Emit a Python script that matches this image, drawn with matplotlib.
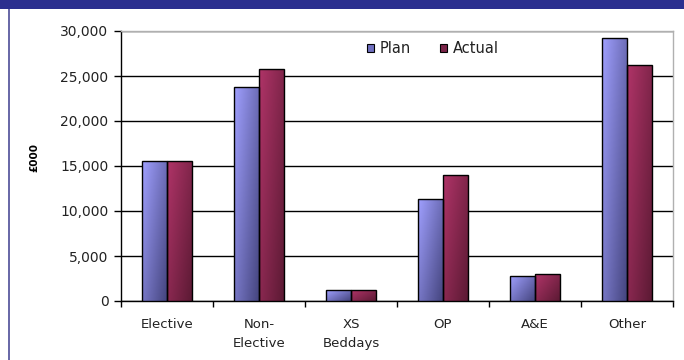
import numpy as np
import matplotlib
matplotlib.use("Agg")
import matplotlib.pyplot as plt
from matplotlib.patches import Rectangle
from matplotlib.colors import to_rgb
from matplotlib.ticker import FuncFormatter, FixedLocator

plt.rcParams['font.family'] = ['DejaVu Sans']

categories = ["Elective", "Non-\nElective", "XS\nBeddays", "OP", "A&E", "Other"]
plan = [15500, 23800, 1200, 11300, 2800, 29200]
actual = [15500, 25800, 1200, 14000, 2950, 26200]
series_names = ["Plan", "Actual"]

plan_cols = ("#a0a0ff", "#45457f")
actual_cols = ("#b03468", "#5c1a34")


def gradient_bars(ax, xs, heights, width, cols):
    light, dark = np.array(to_rgb(cols[0])), np.array(to_rgb(cols[1]))
    gx, gy = np.meshgrid(np.linspace(0, 1, 40), np.linspace(0, 1, 80))
    # gy=0 is the top row of the image
    t = 0.55 * gx + 0.45 * gy
    img = light[None, None, :] * (1 - t[..., None]) + dark[None, None, :] * t[..., None]
    bars = ax.bar(xs, heights, width, facecolor="none", edgecolor="black", lw=1.0, zorder=4)
    for b in bars:
        x0, y0 = b.get_x(), b.get_y()
        w, h = b.get_width(), b.get_height()
        im = ax.imshow(img, extent=(x0, x0 + w, y0, y0 + h), aspect="auto",
                       origin="upper", zorder=3, interpolation="bilinear")
        im.set_clip_path(b)
    return bars


fig = plt.figure(figsize=(6.84, 3.6), dpi=100)
fig.patch.set_facecolor("white")

# title band and left border
fig.add_artist(Rectangle((0, 1 - 9 / 360), 1, 9 / 360, transform=fig.transFigure,
                         facecolor="#2b2f8f", edgecolor="none"))
fig.add_artist(Rectangle((8 / 684, 0), 1.5 / 684, 1 - 9 / 360, transform=fig.transFigure,
                         facecolor="#6a6aa8", edgecolor="none"))

ax = fig.add_axes([121 / 684, 59 / 360, 552 / 684, 270 / 360])
x = np.arange(len(categories))
w = 0.27
gradient_bars(ax, x - w / 2, plan, w, plan_cols)
gradient_bars(ax, x + w / 2, actual, w, actual_cols)

ax.set_xlim(-0.5, len(categories) - 0.5)
ax.set_ylim(0, 30000)
ax.set_yticks(np.arange(0, 30001, 5000))
ax.yaxis.set_major_formatter(FuncFormatter(lambda v, p: f"{int(v):,}"))
ax.grid(axis="y", color="black", lw=1.0, zorder=1)
ax.set_axisbelow(True)

ax.set_xticks(x)
ax.set_xticklabels(categories, fontsize=9.5, linespacing=1.6, color="#222222")
ax.tick_params(axis="x", length=0, pad=12)
ax.xaxis.set_minor_locator(FixedLocator(np.arange(-0.5, len(categories), 1.0)))
ax.tick_params(axis="x", which="minor", length=4, width=1, direction="out")
ax.tick_params(axis="y", length=5, width=1, direction="out", labelsize=10,
               labelcolor="#222222", pad=4)

for s in ["left", "bottom"]:
    ax.spines[s].set_color("black")
    ax.spines[s].set_linewidth(1.0)
for s in ["top", "right"]:
    ax.spines[s].set_color("#b0b0b0")
    ax.spines[s].set_linewidth(1.0)

ax.set_ylabel("£000", fontsize=7.5, fontweight="bold")
ax.yaxis.set_label_coords(-0.147, 0.53)

h1 = Rectangle((0, 0), 1, 1, facecolor="#7070c0", edgecolor="black", lw=0.8)
h2 = Rectangle((0, 0), 1, 1, facecolor="#7a2448", edgecolor="black", lw=0.8)
ax.legend([h1, h2], series_names, loc="center", bbox_to_anchor=(0.565, 0.935),
          ncol=2, frameon=False, fontsize=10.5, handlelength=0.45, handleheight=0.45,
          handletextpad=0.4, columnspacing=2.0, borderpad=0.2, labelcolor="#222222")

fig.savefig("out.png", dpi=100)
